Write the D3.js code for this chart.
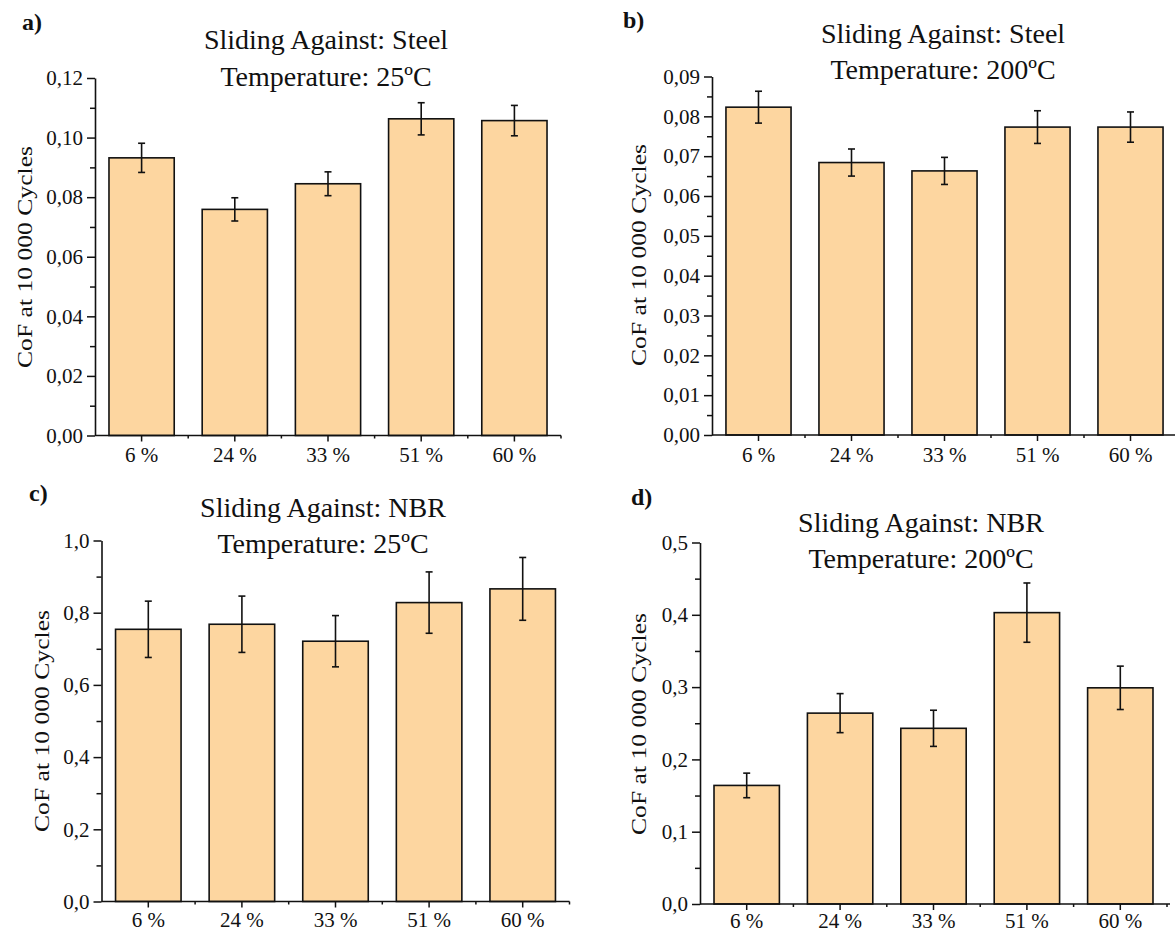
<!DOCTYPE html>
<html>
<head>
<meta charset="utf-8">
<script src="https://cdn.jsdelivr.net/npm/d3@7"></script>
<style>
  html, body { margin: 0; padding: 0; background: #fff; }
  svg { display: block; }
  text { font-family: "Liberation Serif", "Times New Roman", serif; fill: #111; }
</style>
</head>
<body>
<svg id="chart" width="1175" height="933"></svg>
<script>
// ---------------- data ----------------
const categories = ["6 %", "24 %", "33 %", "51 %", "60 %"];

const valuesA = [0.0932, 0.0759, 0.0845, 0.1063, 0.1057];
const errorsA = [0.0049, 0.0039, 0.0040, 0.0054, 0.0051];

const valuesB = [0.0823, 0.0684, 0.0663, 0.0773, 0.0773];
const errorsB = [0.0040, 0.0034, 0.0034, 0.0041, 0.0038];

const valuesC = [0.754, 0.768, 0.721, 0.828, 0.866];
const errorsC = [0.078, 0.078, 0.071, 0.085, 0.087];

const valuesD = [0.164, 0.264, 0.243, 0.403, 0.299];
const errorsD = [0.017, 0.027, 0.025, 0.041, 0.030];

const yTicksA = [0, 0.02, 0.04, 0.06, 0.08, 0.10, 0.12];
const yTickLabelsA = ["0,00", "0,02", "0,04", "0,06", "0,08", "0,10", "0,12"];
const yMinorA = [0.01, 0.03, 0.05, 0.07, 0.09, 0.11];

const yTicksB = [0, 0.01, 0.02, 0.03, 0.04, 0.05, 0.06, 0.07, 0.08, 0.09];
const yTickLabelsB = ["0,00", "0,01", "0,02", "0,03", "0,04", "0,05", "0,06", "0,07", "0,08", "0,09"];
const yMinorB = [0.005, 0.015, 0.025, 0.035, 0.045, 0.055, 0.065, 0.075, 0.085];

const yTicksC = [0, 0.2, 0.4, 0.6, 0.8, 1.0];
const yTickLabelsC = ["0,0", "0,2", "0,4", "0,6", "0,8", "1,0"];
const yMinorC = [0.1, 0.3, 0.5, 0.7, 0.9];

const yTicksD = [0, 0.1, 0.2, 0.3, 0.4, 0.5];
const yTickLabelsD = ["0,0", "0,1", "0,2", "0,3", "0,4", "0,5"];
const yMinorD = [0.05, 0.15, 0.25, 0.35, 0.45];

const letters = ["a)", "b)", "c)", "d)"];
const titleLine1 = ["Sliding Against: Steel", "Sliding Against: Steel", "Sliding Against: NBR", "Sliding Against: NBR"];
const titleLine2 = ["Temperature: 25ºC", "Temperature: 200ºC", "Temperature: 25ºC", "Temperature: 200ºC"];
const yAxisTitle = "CoF at 10 000 Cycles";

// ---------------- layout ----------------
const panels = [
  { values: valuesA, errors: errorsA, ticks: yTicksA, tickLabels: yTickLabelsA, minor: yMinorA, max: 0.12,
    x0: 95, x1: 561, axisEnd: 561, yTop: 78, yBot: 435.5, xPad: 6,
    titleX: 326, t1Y: 49, t2Y: 86, letterX: 22, letterY: 30, ylabX: 24, ylabY: 257 },
  { values: valuesB, errors: errorsB, ticks: yTicksB, tickLabels: yTickLabelsB, minor: yMinorB, max: 0.09,
    x0: 712, x1: 1177, axisEnd: 1177, yTop: 76.5, yBot: 435, xPad: 6,
    titleX: 943, t1Y: 43, t2Y: 79, letterX: 623, letterY: 28, ylabX: 638, ylabY: 255 },
  { values: valuesC, errors: errorsC, ticks: yTicksC, tickLabels: yTickLabelsC, minor: yMinorC, max: 1.0,
    x0: 101.5, x1: 569.5, axisEnd: 569.5, yTop: 540.5, yBot: 901.5, xPad: 5,
    titleX: 323, t1Y: 516.5, t2Y: 553, letterX: 29, letterY: 501, ylabX: 41, ylabY: 721 },
  { values: valuesD, errors: errorsD, ticks: yTicksD, tickLabels: yTickLabelsD, minor: yMinorD, max: 0.5,
    x0: 700, x1: 1167, axisEnd: 1170, yTop: 542.5, yBot: 904, xPad: 3,
    titleX: 921, t1Y: 531.5, t2Y: 568, letterX: 631, letterY: 505, ylabX: 638, ylabY: 724 }
];

const barFill = "#FDD6A0";
const ink = "#111";
const svg = d3.select("#chart");

panels.forEach((p, i) => {
  const g = svg.append("g");
  const x = d3.scaleBand().domain(categories).range([p.x0, p.x1]).paddingInner(0.3).paddingOuter(0.15);
  const y = d3.scaleLinear().domain([0, p.max]).range([p.yBot, p.yTop]);

  // bars
  g.selectAll("rect.bar").data(categories).join("rect")
    .attr("class", "bar")
    .attr("x", d => x(d))
    .attr("width", x.bandwidth())
    .attr("y", (d, k) => y(p.values[k]))
    .attr("height", (d, k) => y(0) - y(p.values[k]))
    .attr("fill", barFill)
    .attr("stroke", ink)
    .attr("stroke-width", 1.6);

  // error bars
  const cap = 3.5;
  const cx = d => x(d) + x.bandwidth() / 2;
  const eb = g.selectAll("g.err").data(categories).join("g").attr("class", "err");
  eb.append("line")
    .attr("x1", cx).attr("x2", cx)
    .attr("y1", (d, k) => y(p.values[k] + p.errors[k]))
    .attr("y2", (d, k) => y(p.values[k] - p.errors[k]))
    .attr("stroke", ink).attr("stroke-width", 1.6);
  eb.append("line")
    .attr("x1", d => cx(d) - cap).attr("x2", d => cx(d) + cap)
    .attr("y1", (d, k) => y(p.values[k] + p.errors[k]))
    .attr("y2", (d, k) => y(p.values[k] + p.errors[k]))
    .attr("stroke", ink).attr("stroke-width", 1.6);
  eb.append("line")
    .attr("x1", d => cx(d) - cap).attr("x2", d => cx(d) + cap)
    .attr("y1", (d, k) => y(p.values[k] - p.errors[k]))
    .attr("y2", (d, k) => y(p.values[k] - p.errors[k]))
    .attr("stroke", ink).attr("stroke-width", 1.6);

  // y minor ticks
  g.append("g").attr("transform", `translate(${p.x0},0)`)
    .call(d3.axisLeft(y).tickValues(p.minor).tickSize(5).tickSizeOuter(0).tickFormat(""))
    .call(a => a.select(".domain").remove())
    .call(a => a.selectAll("line").attr("stroke", ink).attr("stroke-width", 1.5));

  // y major axis
  g.append("g").attr("transform", `translate(${p.x0},0)`)
    .call(d3.axisLeft(y).tickValues(p.ticks).tickSize(8).tickSizeOuter(0).tickPadding(4)
      .tickFormat((d, k) => p.tickLabels[k]))
    .call(a => a.select(".domain").attr("stroke", ink).attr("stroke-width", 1.6))
    .call(a => a.selectAll("line").attr("stroke", ink).attr("stroke-width", 1.5))
    .call(a => a.selectAll("text").attr("font-size", 21).attr("fill", ink)
      .attr("font-family", "Liberation Serif"));

  // x axis line
  g.append("line")
    .attr("x1", p.x0).attr("x2", p.axisEnd)
    .attr("y1", y(0)).attr("y2", y(0))
    .attr("stroke", ink).attr("stroke-width", 1.6);

  // x major ticks + labels
  g.append("g").attr("transform", `translate(0,${y(0)})`)
    .call(d3.axisBottom(x).tickSize(6).tickSizeOuter(0).tickPadding(p.xPad))
    .call(a => a.select(".domain").remove())
    .call(a => a.selectAll("line").attr("stroke", ink).attr("stroke-width", 1.5))
    .call(a => a.selectAll("text").attr("font-size", 21).attr("fill", ink)
      .attr("font-family", "Liberation Serif"));

  // x minor ticks at band boundaries
  g.selectAll("line.xminor").data(categories).join("line")
    .attr("class", "xminor")
    .attr("x1", d => x(d) + x.bandwidth() + x.step() * 0.15)
    .attr("x2", d => x(d) + x.bandwidth() + x.step() * 0.15)
    .attr("y1", y(0)).attr("y2", y(0) + 3)
    .attr("stroke", ink).attr("stroke-width", 1.5);

  // titles
  g.append("text").attr("x", p.titleX).attr("y", p.t1Y).attr("text-anchor", "middle")
    .attr("font-size", 28).text(titleLine1[i]);
  g.append("text").attr("x", p.titleX).attr("y", p.t2Y).attr("text-anchor", "middle")
    .attr("font-size", 28).text(titleLine2[i]);

  // panel letter
  g.append("text").attr("x", p.letterX).attr("y", p.letterY)
    .attr("font-size", 24).attr("font-weight", "bold").text(letters[i]);

  // y axis title
  g.append("text")
    .attr("transform", `translate(${p.ylabX},${p.ylabY}) rotate(-90)`)
    .attr("text-anchor", "middle").attr("dy", "0.35em")
    .attr("font-size", 22)
    .attr("textLength", 222).attr("lengthAdjust", "spacingAndGlyphs")
    .text(yAxisTitle);
});
</script>
</body>
</html>
